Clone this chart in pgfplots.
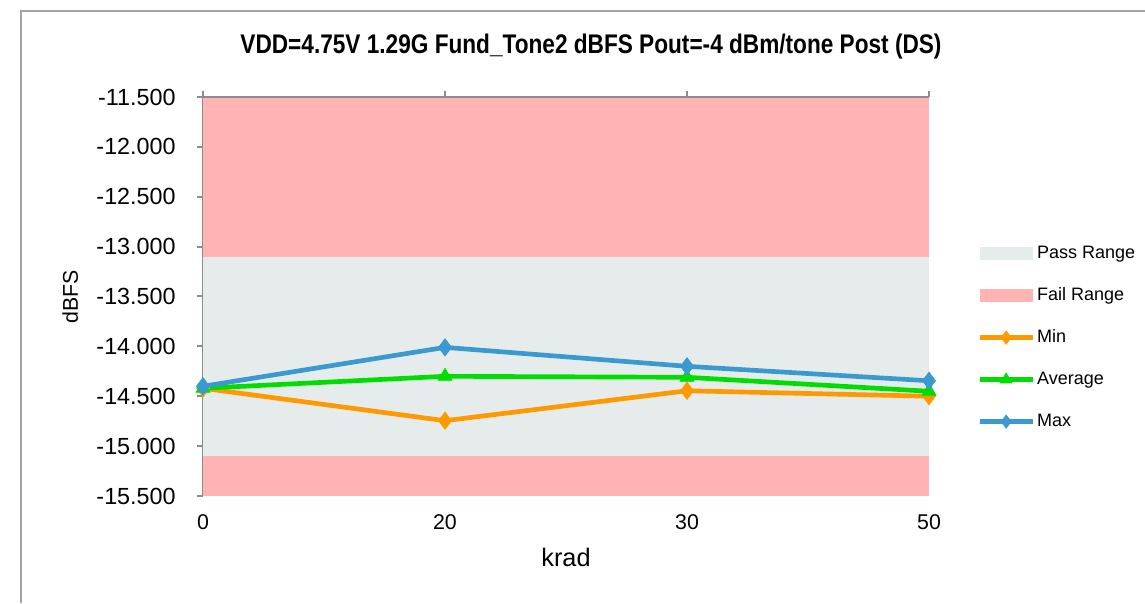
\documentclass[border=0pt]{standalone}
\usepackage{fontspec}
\setmainfont{Liberation Sans}
\usepackage{pgfplots}
\pgfplotsset{compat=1.18}
\usepackage{graphicx}
\definecolor{failc}{HTML}{FFB3B3}
\definecolor{passc}{HTML}{E6ECEC}
\definecolor{minc}{HTML}{FF9900}
\definecolor{avgc}{HTML}{00DD00}
\definecolor{maxc}{HTML}{3A9AD0}
\definecolor{axc}{HTML}{8C8C8C}
\begin{document}
\begin{tikzpicture}
\useasboundingbox (0,0) rectangle (858.75pt,452.25pt);
\draw[color=axc!80, line width=1.4pt] (15.75pt,0) -- (15.75pt,444pt) -- (858.75pt,444pt);
\node[font=\bfseries\fontsize{20.2}{24}\selectfont] at (443.25pt,417pt) {\scalebox{0.84}[1]{VDD=4.75V 1.29G Fund\_Tone2 dBFS Pout=-4 dBm/tone Post (DS)}};
\begin{axis}[
  at={(152.25pt,80.25pt)}, anchor=south west,
  scale only axis, width=544.5pt, height=299.25pt,
  xmin=0, xmax=3, ymin=-15.5, ymax=-11.5,
  xtick={0,1,2,3}, xticklabels={0,20,30,50},
  ytick={-15.5,-15,-14.5,-14,-13.5,-13,-12.5,-12,-11.5},
  axis x line*=bottom, axis y line*=left,
  x axis line style={draw=none},
  xtick style={draw=none},
  y axis line style={color=axc, line width=1.5pt, -},
  ytick style={color=axc, line width=1.5pt},
  tick align=outside, major tick length=4.5pt,
  /pgf/number format/assume math mode=true,
  yticklabel style={/pgf/number format/.cd, fixed, fixed zerofill, precision=3, 1000 sep={}, /tikz/.cd, font=\fontsize{17.5}{20}\selectfont, xshift=-12.5pt},
  xticklabel style={font=\fontsize{16}{19}\selectfont, yshift=-6pt},
  xlabel={krad}, ylabel={dBFS},
  xlabel style={font=\fontsize{19}{22}\selectfont, at={(axis description cs:0.5,-0.155)}, anchor=center},
  ylabel style={font=\fontsize{16}{19}\selectfont, at={(axis description cs:-0.183,0.5)}, anchor=center, rotate=0},
  legend style={at={(axis description cs:1.066,0.397)}, anchor=west, draw=none, fill=none, inner sep=0pt,
    font=\fontsize{13.5}{16}\selectfont, row sep=15.5pt,
    nodes={inner sep=1.5pt, text height=10pt, text depth=3pt}},
  legend cell align=left,
  clip=false,
]
\addplot[draw=none, fill=passc, area legend,
  legend image code/.code={\fill[passc] (0pt,-5pt) rectangle (40pt,5pt);}]
  coordinates {(0,-13.1) (3,-13.1) (3,-15.1) (0,-15.1)} -- cycle;
\addlegendentry{Pass Range}
\addplot[draw=none, fill=failc, area legend,
  legend image code/.code={\fill[failc] (0pt,-5pt) rectangle (40pt,5pt);}]
  coordinates {(0,-11.5) (3,-11.5) (3,-13.1) (0,-13.1)} -- cycle;
\addlegendentry{Fail Range}
\addplot[draw=none, fill=failc, forget plot]
  coordinates {(0,-15.1) (3,-15.1) (3,-15.5) (0,-15.5)} -- cycle;
% top line with ticks
\draw[color=axc, line width=1.5pt] (axis cs:0,-11.5) -- (axis cs:3,-11.5);
\pgfplotsinvokeforeach{0,1,2,3}{\draw[color=axc, line width=1.5pt] (axis cs:#1,-11.5) -- ([yshift=4.5pt]axis cs:#1,-11.5);}
\addplot[color=minc, line width=3.5pt, mark=diamond*, mark size=6.5pt, mark options={solid, line width=0.5pt},
  legend image code/.code={\draw[line width=3.5pt] (0pt,0pt) -- (40pt,0pt); \draw[line width=0.5pt] plot[mark=diamond*, mark size=5pt] coordinates {(20pt,0pt)};}]
  coordinates {(0,-14.42) (1,-14.745) (2,-14.445) (3,-14.50)};
\addlegendentry{Min}
\addplot[color=avgc, line width=3.5pt, mark=triangle*, mark size=6pt, mark options={solid, line width=0.5pt},
  legend image code/.code={\draw[line width=3.5pt] (0pt,0pt) -- (40pt,0pt); \draw[line width=0.5pt] plot[mark=triangle*, mark size=5pt] coordinates {(20pt,0pt)};}]
  coordinates {(0,-14.42) (1,-14.30) (2,-14.31) (3,-14.45)};
\addlegendentry{Average}
\addplot[color=maxc, line width=3.5pt, mark=diamond*, mark size=6.5pt, mark options={solid, line width=0.5pt},
  legend image code/.code={\draw[line width=3.5pt] (0pt,0pt) -- (40pt,0pt); \draw[line width=0.5pt] plot[mark=diamond*, mark size=5pt] coordinates {(20pt,0pt)};}]
  coordinates {(0,-14.40) (1,-14.01) (2,-14.20) (3,-14.345)};
\addlegendentry{Max}
\end{axis}
\end{tikzpicture}
\end{document}
